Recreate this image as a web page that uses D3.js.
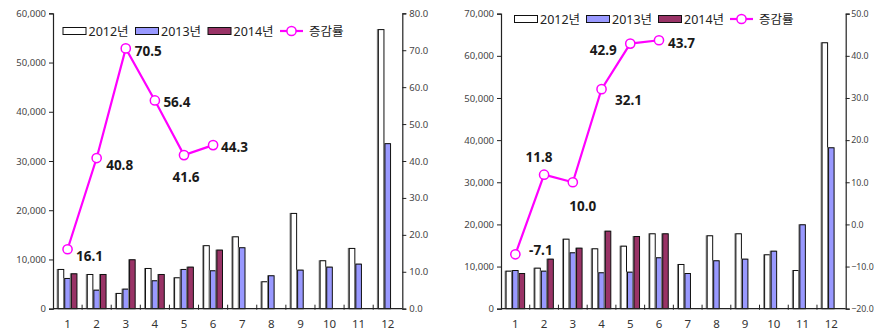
<!DOCTYPE html>
<html>
<head>
<meta charset="utf-8">
<script src="https://cdn.jsdelivr.net/npm/d3@7"></script>
<style>
  html, body { margin: 0; padding: 0; background: #fff; }
  svg { display: block; }
  text { font-family: "Noto Sans", "Noto Sans CJK KR", sans-serif; }
</style>
</head>
<body>
<svg id="chart" width="874" height="333"></svg>
<script>
// Monthly categories shared by both panels
const months = ["1", "2", "3", "4", "5", "6", "7", "8", "9", "10", "11", "12"];
const seriesNames = ["2012년", "2013년", "2014년"];
const rateName = "증감률";

// Left panel: monthly amounts and cumulative change rate (%)
const leftSales2012 = [8070, 7050, 3200, 8270, 6380, 12900, 14700, 5570, 19450, 9840, 12340, 56790];
const leftSales2013 = [6240, 3860, 4070, 5770, 8070, 7800, 12480, 6790, 7930, 8540, 9150, 33620];
const leftSales2014 = [7190, 7050, 10040, 7050, 8540, 12000];
const leftRate = [16.1, 40.8, 70.5, 56.4, 41.6, 44.3];
const leftAmountTicks = [0, 10000, 20000, 30000, 40000, 50000, 60000];
const leftRateTicks = [0, 10, 20, 30, 40, 50, 60, 70, 80];

// Right panel
const rightSales2012 = [9020, 9730, 16610, 14330, 14950, 17890, 10610, 17420, 17890, 12910, 9180, 63220];
const rightSales2013 = [9180, 9020, 13380, 8640, 8780, 12200, 8470, 11490, 11870, 13760, 20030, 38300];
const rightSales2014 = [8470, 11870, 14480, 18510, 17250, 17890];
const rightRate = [-7.1, 11.8, 10.0, 32.1, 42.9, 43.7];
const rightAmountTicks = [0, 10000, 20000, 30000, 40000, 50000, 60000, 70000];
const rightRateTicks = [-20, -10, 0, 10, 20, 30, 40, 50];

const colors = ["#ffffff", "#9999ff", "#993366"];
const lineColor = "#ff00ff";

const svg = d3.select("#chart");
svg.append("rect").attr("width", 874).attr("height", 333).attr("fill", "#fff");

function drawPanel(cfg) {
  const g = svg.append("g");
  const x = d3.scaleBand().domain(months).range([cfg.left, cfg.right]).padding(0);
  const bw = x.bandwidth();
  const x1 = d3.scaleBand().domain(d3.range(3)).range([bw * 0.16, bw * 0.84]).padding(0);
  const yL = d3.scaleLinear().domain([0, d3.max(cfg.amountTicks)]).range([cfg.bottom, cfg.top]);
  const yR = d3.scaleLinear().domain(d3.extent(cfg.rateTicks)).range([cfg.bottom, cfg.top]);

  // bars, each with a thin grey edge on its left side
  cfg.sales.forEach((vals, si) => {
    const bars = g.append("g");
    vals.forEach((v, i) => {
      const bx = x(months[i]) + x1(si);
      const by = yL(v);
      const h = cfg.bottom - by;
      bars.append("rect")
        .attr("x", bx - 1).attr("y", by).attr("width", x1.bandwidth()).attr("height", h)
        .attr("fill", "#8a8a8a");
      bars.append("rect")
        .attr("x", bx + 0.5).attr("y", by + 0.5).attr("width", x1.bandwidth() - 1).attr("height", Math.max(0, h - 0.5))
        .attr("fill", colors[si]).attr("stroke", "#111").attr("stroke-width", 1);
    });
  });

  // value axes
  const axL = d3.axisLeft(yL).tickValues(cfg.amountTicks).tickSize(4)
    .tickFormat(d => d === 0 ? "0" : d3.format(",")(d));
  const gl = g.append("g").attr("transform", `translate(${cfg.left},0)`).call(axL);
  const axR = d3.axisRight(yR).tickValues(cfg.rateTicks).tickSize(4).tickFormat(d3.format(".1f"));
  const gr = g.append("g").attr("transform", `translate(${cfg.right},0)`).call(axR);
  [gl, gr].forEach(a => {
    a.select(".domain").attr("stroke", "#222").attr("stroke-width", 1.2);
    a.selectAll(".tick line").attr("stroke", "#222");
    a.selectAll(".tick text").attr("fill", "#444").style("font-size", "9.5px");
  });
  gl.selectAll(".tick text").attr("x", -7);
  gr.selectAll(".tick text").attr("x", cfg.rightLabelGap).style("font-size", cfg.rightLabelSize);

  // category axis
  const gx = g.append("g").attr("transform", `translate(0,${cfg.bottom})`);
  gx.append("line").attr("x1", cfg.left).attr("x2", cfg.right).attr("stroke", "#222").attr("stroke-width", 1.2);
  months.slice(1).forEach(m => {
    gx.append("line").attr("x1", x(m)).attr("x2", x(m)).attr("y1", -4).attr("y2", 1).attr("stroke", "#222");
  });
  months.forEach(m => {
    gx.append("text").attr("x", x(m) + bw / 2).attr("y", 19)
      .attr("text-anchor", "middle").attr("fill", "#333").style("font-size", "11.5px").text(m);
  });

  // change-rate line
  const pts = cfg.rate.map((v, i) => [x(months[i]) + bw / 2, yR(v)]);
  g.append("path").attr("d", d3.line()(pts)).attr("fill", "none")
    .attr("stroke", lineColor).attr("stroke-width", 2.2);
  g.selectAll(null).data(pts).enter().append("circle")
    .attr("cx", d => d[0]).attr("cy", d => d[1]).attr("r", 4.6)
    .attr("fill", "#fff").attr("stroke", lineColor).attr("stroke-width", 1.5);
  cfg.rate.forEach((v, i) => {
    const [dx, dy] = cfg.labelOffsets[i];
    g.append("text").attr("x", pts[i][0] + dx).attr("y", pts[i][1] + dy)
      .attr("text-anchor", "middle").attr("dominant-baseline", "central")
      .attr("fill", "#1a1a1a").style("font-size", "13.5px").style("font-weight", "bold")
      .text(v.toFixed(1));
  });

  // legend
  const lg = g.append("g").attr("transform", `translate(${cfg.legendX},${cfg.legendY})`);
  seriesNames.forEach((name, i) => {
    const ox = i * cfg.legendStep;
    lg.append("rect").attr("x", ox + 0.5).attr("y", -3.5).attr("width", 23).attr("height", 7)
      .attr("fill", colors[i]).attr("stroke", "#111").attr("stroke-width", 1);
    lg.append("text").attr("x", ox + 26).attr("y", 0).attr("dominant-baseline", "central")
      .attr("fill", "#222").style("font-size", "12.5px").text(name);
  });
  const ox = 3 * cfg.legendStep;
  lg.append("line").attr("x1", ox).attr("x2", ox + 23).attr("y1", 0).attr("y2", 0)
    .attr("stroke", lineColor).attr("stroke-width", 2.2);
  lg.append("circle").attr("cx", ox + 11.5).attr("cy", 0).attr("r", 4.6)
    .attr("fill", "#fff").attr("stroke", lineColor).attr("stroke-width", 1.5);
  lg.append("text").attr("x", ox + 29).attr("y", 0).attr("dominant-baseline", "central")
    .attr("fill", "#222").style("font-size", "12.5px").text(rateName);
}

drawPanel({
  left: 53, right: 402.3, top: 13.3, bottom: 308.7,
  sales: [leftSales2012, leftSales2013, leftSales2014],
  rate: leftRate,
  amountTicks: leftAmountTicks, rateTicks: leftRateTicks,
  labelOffsets: [[22, 7], [23, 7], [22.5, 3], [22, 2], [2, 22], [21.5, 2]],
  legendX: 62.5, legendY: 31, legendStep: 72.5,
  rightLabelGap: 7, rightLabelSize: "9.5px"
});

drawPanel({
  left: 501, right: 845.7, top: 13.7, bottom: 308.7,
  sales: [rightSales2012, rightSales2013, rightSales2014],
  rate: rightRate,
  amountTicks: rightAmountTicks, rateTicks: rightRateTicks,
  labelOffsets: [[25.5, -4], [-5, -18], [10, 24], [27, 10.5], [-27, 6], [22.5, 3]],
  legendX: 514, legendY: 19, legendStep: 72,
  rightLabelGap: 5.5, rightLabelSize: "8.8px"
});
</script>
</body>
</html>
